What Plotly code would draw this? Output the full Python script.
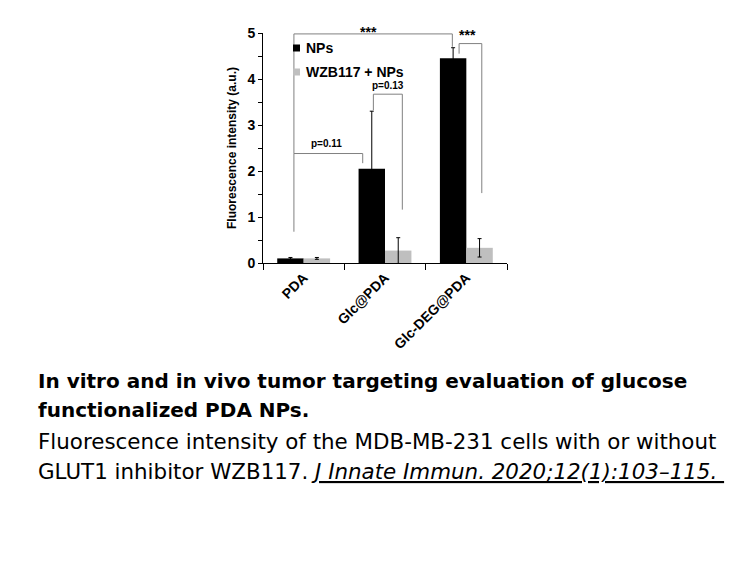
import plotly.graph_objects as go

# ---- data ----
categories = ["PDA", "Glc@PDA", "Glc-DEG@PDA"]
nps = [0.10, 2.05, 4.45]
nps_err = [0.02, 1.25, 0.23]
wzb = [0.10, 0.27, 0.33]
wzb_err = [0.02, 0.28, 0.20]
series_names = ["NPs", "WZB117 + NPs"]

# significance brackets: (x_left, y_left_bottom, y_top, x_right, y_right_bottom, label, label_x, label_y, size)
brackets = [
    (-0.12, 0.68, 2.38, 0.726, 2.17, "p=0.11", 0.28, 2.60, 10),
    (0.857, 3.32, 3.67, 1.213, 1.16, "p=0.13", 1.04, 3.85, 10),
    (-0.12, 2.38, 4.98, 1.828, 4.70, "***", 0.80, 5.03, 14),
    (1.911, 4.55, 4.77, 2.19, 1.52, "***", 2.02, 4.96, 14),
]

FONT = "Arial, Liberation Sans, sans-serif"
CAP_FONT = "DejaVu Sans, Arial, sans-serif"
BLACK = "#000000"
GRAY = "#bfbfbf"
YMAX = 5

fig = go.Figure()
fig.add_trace(go.Bar(x=categories, y=nps, name=series_names[0], marker=dict(color=BLACK, line=dict(width=0)),
                     error_y=dict(type="data", array=nps_err, color=BLACK, thickness=1, width=2),
                     showlegend=False))
fig.add_trace(go.Bar(x=categories, y=wzb, name=series_names[1], marker=dict(color=GRAY, line=dict(width=0)),
                     error_y=dict(type="data", array=wzb_err, color=BLACK, thickness=1, width=2),
                     showlegend=False))

L, R, T, B = 263, 249, 33, 304
W, H = 756, 567
pw, ph = W - L - R, H - T - B


def px2paper(xp, yp):
    return (xp - L) / pw, (H - B - yp) / ph


shapes = []
annotations = []
for xl, yl, yt, xr, yr, lab, lx, ly, fs in brackets:
    shapes.append(dict(type="path", xref="x", yref="y",
                       path=f"M{xl},{yl} L{xl},{yt} L{xr},{yt} L{xr},{yr}",
                       line=dict(color="#808080", width=1)))
    annotations.append(dict(x=lx, y=ly / YMAX, xref="x", yref="paper", text=f"<b>{lab}</b>", showarrow=False,
                            font=dict(family=FONT, size=fs, color="#000"), yanchor="middle"))

# manual legend
for name, col, yp in zip(series_names, [BLACK, GRAY], [48, 72]):
    x0, y0 = px2paper(293, yp - 3.5)
    x1, y1 = px2paper(300, yp + 3.5)
    shapes.append(dict(type="rect", xref="paper", yref="paper", x0=x0, x1=x1, y0=y0, y1=y1,
                       fillcolor=col, line=dict(width=0)))
    tx, ty = px2paper(304, yp)
    annotations.append(dict(x=tx, y=ty, xref="paper", yref="paper", text=f"<b>{name}</b>", showarrow=False,
                            xanchor="left", yanchor="middle", font=dict(family=FONT, size=14, color="#000")))

caption = [
    ("<b>In vitro and in vivo tumor targeting evaluation of glucose</b>", 381, 20),
    ("<b>functionalized PDA NPs.</b>", 410, 20),
    ("Fluorescence intensity of the MDB-MB-231 cells with or without", 441, 21.4),
    ("GLUT1 inhibitor WZB117. <i><u>J Innate Immun. 2020;12(1):103–115.&nbsp;</u></i>", 472, 21.4),
]
for txt, yp, fs in caption:
    cx, cy = px2paper(36, yp)
    annotations.append(dict(x=cx, y=cy, xref="paper", yref="paper", text=txt, showarrow=False,
                            xanchor="left", yanchor="middle", align="left",
                            font=dict(family=CAP_FONT, size=fs, color="#000")))

fig.update_layout(
    width=W, height=H,
    margin=dict(l=L, r=R, t=T, b=B, pad=0),
    paper_bgcolor="white", plot_bgcolor="white",
    barmode="group", bargap=0.35, bargroupgap=0,
    font=dict(family=FONT, color="#000"),
    shapes=shapes, annotations=annotations,
    showlegend=False,
    xaxis=dict(type="category", range=[-0.5, 2.5], showline=True, linecolor="#000", linewidth=1,
               ticks="outside", tickson="boundaries", ticklen=6, tickcolor="#000",
               tickangle=-45, tickfont=dict(family=FONT, size=14, color="#000"),
               tickprefix="<b>", ticksuffix="</b>",
               showgrid=False, zeroline=False),
    yaxis=dict(range=[0, YMAX], dtick=1, showline=True, linecolor="#000", linewidth=1,
               ticks="outside", ticklen=4, tickcolor="#000",
               minor=dict(dtick=0.5, ticks="outside", ticklen=4, tickcolor="#000"),
               tickfont=dict(family=FONT, size=14, color="#000"),
               tickprefix="<b>", ticksuffix="</b>",
               title=dict(text="<b>Fluorescence intensity (a.u.)</b>", font=dict(family=FONT, size=12, color="#000"),
                          standoff=8),
               showgrid=False, zeroline=False),
)

fig.write_html("out.html")
